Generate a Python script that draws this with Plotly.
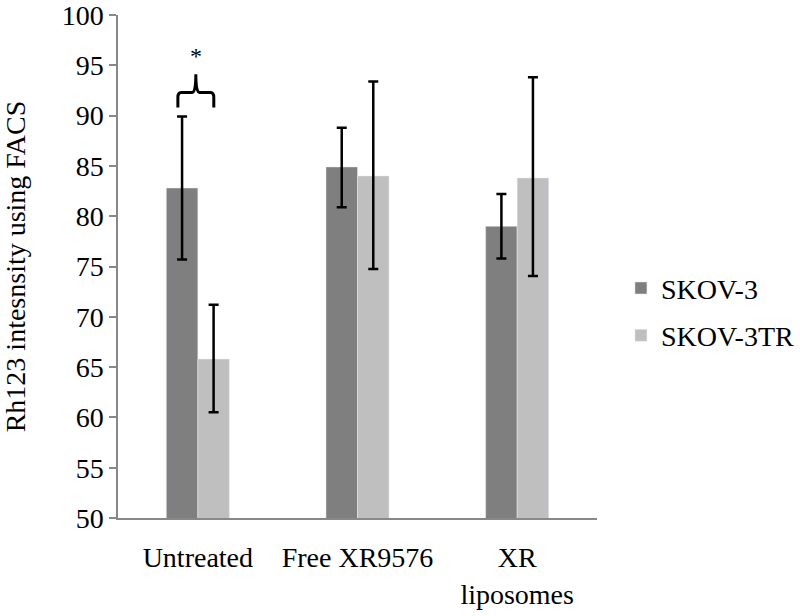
import plotly.graph_objects as go

categories = ["Untreated", "Free XR9576", "XR<br>liposomes"]
skov3 = [82.8, 84.9, 79.0]
skov3_err_plus = [7.1, 3.9, 3.2]
skov3_err_minus = [7.1, 4.0, 3.2]
skov3tr = [65.8, 84.0, 83.8]
skov3tr_err_plus = [5.4, 9.4, 10.0]
skov3tr_err_minus = [5.3, 9.25, 9.75]

FONT = "Liberation Serif, Times New Roman, serif"

fig = go.Figure()
fig.add_trace(go.Bar(
    x=categories, y=skov3, name="SKOV-3", marker_color="#7f7f7f",
    legendgroup="a",
    error_y=dict(type="data", symmetric=False, array=skov3_err_plus,
                 arrayminus=skov3_err_minus, color="black", thickness=2.5, width=5),
))
fig.add_trace(go.Bar(
    x=categories, y=skov3tr, name="SKOV-3TR", marker_color="#bfbfbf",
    legendgroup="b",
    error_y=dict(type="data", symmetric=False, array=skov3tr_err_plus,
                 arrayminus=skov3tr_err_minus, color="black", thickness=2.5, width=5),
))

# significance brace
brace = ("M -0.125,90.8 L -0.125,91.8 Q -0.125,92.3 -0.105,92.3 "
         "L -0.035,92.3 Q -0.0125,92.3 -0.0125,94.1 "
         "Q -0.0125,92.3 0.01,92.3 L 0.08,92.3 Q 0.1,92.3 0.1,91.8 L 0.1,90.8")
fig.add_shape(type="path", path=brace, xref="x", yref="y",
              line=dict(color="black", width=3))
fig.add_annotation(x=-0.0125, y=95.9, xref="x", yref="y", text="*",
                   showarrow=False, font=dict(size=24, color="#000000", family=FONT))

fig.update_layout(
    width=800, height=616,
    margin=dict(l=118, r=203, t=15, b=98, autoexpand=False),
    paper_bgcolor="white", plot_bgcolor="white",
    barmode="group", bargap=0.605, bargroupgap=0,
    font=dict(family=FONT, size=28, color="black"),
    showlegend=True,
    legend=dict(x=1.05, y=0.41, xanchor="left", yanchor="middle",
                traceorder="grouped", tracegroupgap=8,
                font=dict(size=28, family=FONT)),
    xaxis=dict(showline=True, linecolor="#888888", linewidth=1.5, automargin=False,
               ticks="outside", ticklen=14, tickcolor="rgba(0,0,0,0)",
               tickfont=dict(size=28), showgrid=False),
    yaxis=dict(range=[50, 100], dtick=5, showline=True, linecolor="#888888",
               linewidth=1.5, ticks="outside", ticklen=7, tickcolor="#888888",
               tickwidth=1.5, showgrid=False, zeroline=False, automargin=False,
               tickfont=dict(size=28), ticklabeloverflow="allow",
               title=dict(text="Rh123 intesnsity using FACS", font=dict(size=28), standoff=30)),
)

fig.write_html("out.html", config={"displayModeBar": False},
               post_script="document.body.style.margin='0px';")
